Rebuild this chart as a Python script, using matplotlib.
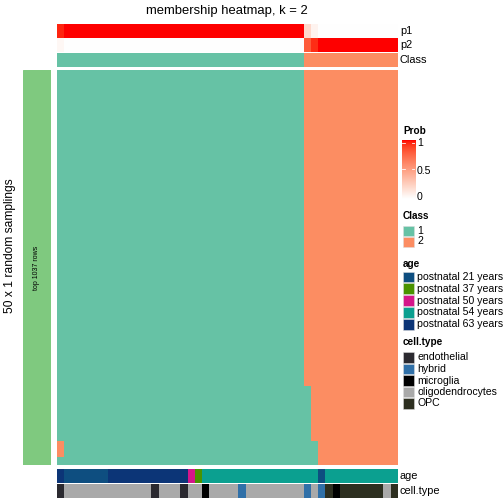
import numpy as np
import matplotlib
matplotlib.use("Agg")
import matplotlib.pyplot as plt
from matplotlib.colors import ListedColormap
from matplotlib.patches import Rectangle

plt.rcParams['font.family'] = ['Liberation Sans', 'DejaVu Sans']

# ---- data (47 samples, 50 random samplings) ----
n_samp = 50
p1 = [0.96] + [1.0] * 33 + [0.2, 0.06] + [0.0] * 11
p2 = [0.04] + [0.0] * 33 + [0.8, 0.94] + [1.0] * 11
cls = [1] * 34 + [2] * 13
# (column, first row, last row, class) where a sampling differs from final class
deviations = [(0, 47, 48, 2), (34, 40, 49, 1), (35, 47, 49, 1)]

age_levels = ["postnatal 21 years", "postnatal 37 years", "postnatal 50 years",
              "postnatal 54 years", "postnatal 63 years"]
age_colors = ["#0E4E80", "#4A9300", "#D5168A", "#0BA090", "#0C3577"]
age = ([4] + [0] * 6 + [4] * 11 + [2, 1] + [3] * 16 + [0] + [3] * 10)

cell_levels = ["endothelial", "hybrid", "microglia", "oligodendrocytes", "OPC"]
cell_colors = ["#2B2A30", "#3070A8", "#000000", "#A9A9A9", "#2D2F20"]
cell = ([0] + [3] * 12 + [0] + [3] * 3 + [0] + [3] * 2 + [2] + [3] * 4 + [1]
        + [3] * 8 + [1, 3, 1, 4, 2] + [4] * 6 + [3, 4])

class_colors = ["#66C2A5", "#FC8D62"]

# membership matrix
mat = np.tile(np.array(cls), (n_samp, 1))
for c, r0, r1, v in deviations:
    mat[r0:r1 + 1, c] = v


# white -> red ramp interpolated in LAB (like colorRamp2)
def lab_ramp(n=256):
    def to_rgb(L, a, b):
        fy = (L + 16) / 116
        fx = fy + a / 500
        fz = fy - b / 200
        f = lambda t: np.where(t ** 3 > 0.008856, t ** 3, (t - 16 / 116) / 7.787)
        X, Y, Z = 0.95047 * f(fx), 1.0 * f(fy), 1.08883 * f(fz)
        r = 3.2406 * X - 1.5372 * Y - 0.4986 * Z
        g = -0.9689 * X + 1.8758 * Y + 0.0415 * Z
        bb = 0.0557 * X - 0.2040 * Y + 1.0570 * Z
        rgb = np.clip(np.stack([r, g, bb], -1), 0, 1)
        return np.where(rgb > 0.0031308, 1.055 * rgb ** (1 / 2.4) - 0.055, 12.92 * rgb)
    t = np.linspace(0, 1, n)
    L = 100 + (53.24 - 100) * t
    a = 80.09 * t
    b = 67.20 * t
    return ListedColormap(to_rgb(L, a, b))


prob_cmap = lab_ramp()

W = H = 504
fig = plt.figure(figsize=(7, 7), dpi=72)


def px_axes(x0, y0, x1, y1):
    ax = fig.add_axes([x0 / W, 1 - y1 / H, (x1 - x0) / W, (y1 - y0) / H])
    ax.set_axis_off()
    return ax


X0, X1 = 57, 397

ax = px_axes(X0, 24, X1, 37.7)
ax.imshow([p1], cmap=prob_cmap, vmin=0, vmax=1, aspect='auto', interpolation='nearest')
ax = px_axes(X0, 38.3, X1, 52.3)
ax.imshow([p2], cmap=prob_cmap, vmin=0, vmax=1, aspect='auto', interpolation='nearest')
cmap_cls = ListedColormap(class_colors)
ax = px_axes(X0, 53.3, X1, 66.7)
ax.imshow([cls], cmap=cmap_cls, vmin=1, vmax=2, aspect='auto', interpolation='nearest')

ax = px_axes(X0, 70, X1, 465)
ax.imshow(mat, cmap=cmap_cls, vmin=1, vmax=2, aspect='auto', interpolation='nearest')

ax = px_axes(X0, 469, X1, 482.7)
ax.imshow([age], cmap=ListedColormap(age_colors), vmin=0, vmax=4, aspect='auto',
          interpolation='nearest')
ax = px_axes(X0, 484, X1, 498)
ax.imshow([cell], cmap=ListedColormap(cell_colors), vmin=0, vmax=4, aspect='auto',
          interpolation='nearest')

# left row-title bar
ax = px_axes(23, 70, 51, 465)
ax.add_patch(Rectangle((0, 0), 1, 1, color="#7FC97F"))
ax.set_xlim(0, 1)
ax.set_ylim(0, 1)
ax.text(0.5, 0.5, "top 1037 rows", rotation=90, ha='center', va='center', fontsize=7)

# overlay for texts and legends, pixel coords
ov = fig.add_axes([0, 0, 1, 1])
ov.set_xlim(0, W)
ov.set_ylim(H, 0)
ov.set_axis_off()

ov.text(227, 11, "membership heatmap, k = 2", ha='center', va='center', fontsize=13)
ov.text(10, 246, "50 x 1 random samplings", rotation=90, ha='center', va='center',
        fontsize=12)
for label, y in [("p1", 31), ("p2", 45.5), ("Class", 60), ("age", 476), ("cell.type", 491)]:
    ov.text(400, y, label, ha='left', va='center', fontsize=11)

# Prob colour bar
cb = px_axes(402, 140, 415, 199)
cb.imshow(np.linspace(1, 0, 100)[:, None], cmap=prob_cmap, vmin=0, vmax=1,
          aspect='auto', extent=[0, 1, 0, 1])
cb.set_xlim(0, 1)
cb.set_ylim(0, 1)
for v in [0.5, 0.95]:
    cb.plot([0, 0.2], [v, v], color='white', lw=0.8)
    cb.plot([0.8, 1], [v, v], color='white', lw=0.8)
ov.text(403, 131, "Prob", fontsize=10, fontweight='bold', va='center')
for lab, y in [("1", 143), ("0.5", 170.5), ("0", 197.5)]:
    ov.text(417, y, lab, fontsize=10.5, va='center')


def legend_block(title, y_title, labels, colors, y_first, step):
    ov.text(403, y_title, title, fontsize=10, fontweight='bold', va='center')
    for i, (lab, col) in enumerate(zip(labels, colors)):
        y = y_first + i * step
        ov.add_patch(Rectangle((403, y - step / 2 + 0.5), 11, step - 1, facecolor=col,
                               edgecolor='#DDDDDD', lw=0.5))
        ov.text(417, y, lab, fontsize=10.5, va='center')


legend_block("Class", 216, ["1", "2"], class_colors, 230.5, 11)
legend_block("age", 264, age_levels, age_colors, 277, 11.8)
legend_block("cell.type", 342, cell_levels, cell_colors, 357.5, 11.5)

fig.savefig("out.png", dpi=72)
